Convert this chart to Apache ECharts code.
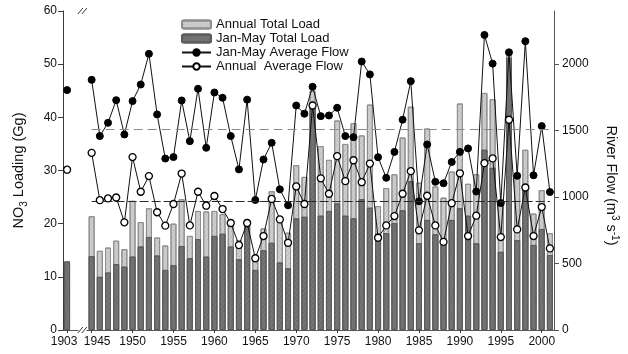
<!DOCTYPE html>
<html>
<head>
<meta charset="utf-8">
<script src="https://cdn.jsdelivr.net/npm/echarts@6/dist/echarts.min.js"></script>
<style>
  html, body { margin: 0; padding: 0; background: #fff; }
  #chart { width: 628px; height: 354px; }
</style>
</head>
<body>
<div id="chart"></div>
<script>
// Categories: 1903, two empty slots for the axis break, then 1945-2001
const categories = ['1903', ' ', '  ',
  '1945','1946','1947','1948','1949','1950','1951','1952','1953','1954',
  '1955','1956','1957','1958','1959','1960','1961','1962','1963','1964',
  '1965','1966','1967','1968','1969','1970','1971','1972','1973','1974',
  '1975','1976','1977','1978','1979','1980','1981','1982','1983','1984',
  '1985','1986','1987','1988','1989','1990','1991','1992','1993','1994',
  '1995','1996','1997','1998','1999','2000','2001'];

// NO3 load, Gg
const annualLoad = [null, null, null,
  21.4, 14.9, 15.5, 16.8, 15.2, 24.3, 20.3, 22.9, 17.4, 15.9,
  20.0, 24.6, 17.7, 22.4, 22.3, 22.4, 21.8, 20.4, 16.9, 20.8,
  14.0, 19.1, 26.1, 20.5, 18.3, 31.0, 28.8, 45.0, 34.6, 32.0,
  39.4, 35.0, 38.9, 36.6, 42.4, 23.3, 26.7, 29.3, 36.2, 42.0,
  27.7, 37.9, 27.0, 24.9, 29.8, 42.6, 27.5, 29.3, 44.6, 43.4,
  24.5, 52.0, 28.7, 33.9, 21.9, 26.3, 18.2];

const janMayLoad = [12.9, null, null,
  13.9, 10.0, 10.8, 12.4, 11.9, 13.8, 15.7, 17.5, 14.0, 11.3,
  12.2, 15.8, 13.5, 17.1, 13.8, 17.7, 18.1, 15.7, 13.3, 19.6,
  11.3, 15.0, 16.4, 12.7, 11.6, 21.0, 21.3, 42.5, 21.5, 22.4,
  23.8, 21.5, 21.0, 24.6, 23.0, 18.1, 18.2, 20.1, 22.5, 28.0,
  16.3, 20.7, 18.0, 16.6, 20.7, 22.9, 21.5, 16.3, 33.9, 30.5,
  14.7, 51.2, 16.9, 27.0, 16.0, 19.0, 14.1];

// River flow, m3/s
const janMayFlow = [1805, null, null,
  1882, 1459, 1559, 1729, 1471, 1722, 1847, 2078, 1622, 1290,
  1301, 1727, 1421, 1815, 1371, 1787, 1747, 1459, 1208, 1733,
  978, 1283, 1408, 1058, 938, 1689, 1627, 1830, 1609, 1614,
  1672, 1459, 1451, 2020, 1923, 1300, 1145, 1340, 1582, 1872,
  968, 1396, 1115, 1104, 1264, 1340, 1366, 1042, 2220, 2004,
  955, 2089, 1160, 2173, 1164, 1534, 1038];

const annualFlow = [1206, null, null,
  1333, 977, 990, 997, 810, 1301, 1040, 1158, 886, 785,
  948, 1177, 787, 1040, 935, 1008, 910, 805, 639, 805,
  540, 707, 986, 832, 656, 1080, 948, 1689, 1141, 1025,
  1308, 1120, 1277, 1112, 1252, 694, 787, 857, 1025, 1195,
  750, 1010, 787, 663, 954, 1179, 707, 860, 1255, 1291,
  699, 1582, 757, 1072, 707, 925, 614];

// Long-term mean flows shown as dashed reference lines
const meanJanMayFlow = 1510;
const meanAnnualFlow = 967;

const loadTicks = [0, 10, 20, 30, 40, 50, 60];
const flowTicks = [0, 500, 1000, 1500, 2000];

const FONT = 'Liberation Sans, Arial, Helvetica, sans-serif';
const AXIS_COLOR = '#3a3a3a';

const labeledYear = (idx) => {
  const v = String(categories[idx]).trim();
  if (v === '') return false;
  return v === '1903' || Number(v) % 5 === 0;
};

// Year labels: only 1903 and every fifth year; the two labels at the break
// are nudged apart so they sit side by side
const yearLabel = (val, idx) => {
  if (!labeledYear(idx)) return '';
  if (val === '1903') return '{left|1903}';
  if (val === '1945') return '{right|1945}';
  return val;
};

// Fine speckle texture for the stippled bar fills
const speckle = (color) => ({
  symbol: 'rect',
  symbolSize: 1,
  color: color,
  dashArrayX: [1, 2],
  dashArrayY: [1, 1],
  rotation: 0.6
});

const chart = echarts.init(document.getElementById('chart'), null, { renderer: 'canvas' });

chart.setOption({
  animation: false,
  backgroundColor: '#fff',
  textStyle: { fontFamily: FONT, color: '#111' },
  grid: { left: 63, right: 72, top: 11, bottom: 24, containLabel: false },
  legend: {
    orient: 'vertical',
    left: 181,
    top: 18,
    padding: 0,
    itemWidth: 29,
    itemHeight: 8,
    itemGap: 1,
    textStyle: { fontFamily: FONT, fontSize: 13, color: '#111' },
    data: ['Annual Total Load', 'Jan-May Total Load', 'Jan-May Average Flow', 'Annual  Average Flow']
  },
  xAxis: [{
    type: 'category',
    data: categories,
    boundaryGap: true,
    axisLine: { lineStyle: { color: AXIS_COLOR, width: 1 } },
    axisTick: { show: true, interval: labeledYear, alignWithLabel: true, length: 3, lineStyle: { color: AXIS_COLOR } },
    axisLabel: {
      interval: 0,
      formatter: yearLabel,
      fontSize: 12, margin: 6, color: '#111', fontFamily: FONT,
      rich: {
        left: { fontSize: 12, fontFamily: FONT, color: '#111', padding: [0, 6, 0, 0] },
        right: { fontSize: 12, fontFamily: FONT, color: '#111', padding: [0, 0, 0, 11] }
      }
    },
    splitLine: { show: false }
  }, {
    type: 'category',
    data: categories,
    position: 'top',
    axisLine: { lineStyle: { color: '#555', width: 1 } },
    axisTick: { show: false },
    axisLabel: { show: false },
    splitLine: { show: false }
  }],
  yAxis: [{
    type: 'value',
    min: 0, max: 60, interval: 10,
    position: 'left',
    axisLine: { show: true, lineStyle: { color: AXIS_COLOR } },
    axisTick: { show: true, length: 5, lineStyle: { color: AXIS_COLOR } },
    axisLabel: { fontSize: 12, margin: 6, color: '#111', fontFamily: FONT, customValues: loadTicks, formatter: v => String(v) },
    splitLine: { show: false },
    name: '{a|NO}{sub|3}{a| Loading (Gg)}',
    nameLocation: 'middle',
    nameRotate: 90,
    nameGap: 37,
    nameTextStyle: {
      fontFamily: FONT,
      rich: {
        a: { fontSize: 14.5, fontFamily: FONT, color: '#111', lineHeight: 17, verticalAlign: 'bottom' },
        sub: { fontSize: 10, fontFamily: FONT, color: '#111', lineHeight: 10, verticalAlign: 'bottom', padding: [0, 0, -3, 0] }
      }
    }
  }, {
    type: 'value',
    min: 0, max: 2400,
    position: 'right',
    axisLine: { show: true, lineStyle: { color: '#555' } },
    axisTick: { show: true, length: 5, lineStyle: { color: '#555' }, customValues: flowTicks },
    axisLabel: { fontSize: 12, margin: 8, color: '#111', fontFamily: FONT, customValues: flowTicks, formatter: v => String(v) },
    splitLine: { show: false },
    name: '{a|River Flow (m}{sup|3}{a| s}{sup|-1}{a|)}',
    nameLocation: 'middle',
    nameRotate: -90,
    nameGap: 49,
    nameTextStyle: {
      fontFamily: FONT,
      padding: [0, 0, 0, 30],
      rich: {
        a: { fontSize: 14.5, fontFamily: FONT, color: '#111', lineHeight: 17, verticalAlign: 'bottom' },
        sup: { fontSize: 10, fontFamily: FONT, color: '#111', lineHeight: 17, verticalAlign: 'top' }
      }
    }
  }],
  series: [{
    name: 'Annual Total Load',
    type: 'bar',
    xAxisIndex: 0, yAxisIndex: 0,
    data: annualLoad,
    barWidth: 6,
    barGap: '-100%',
    itemStyle: { color: '#cfcfcf', borderColor: '#8e8e8e', borderWidth: 1, decal: speckle('rgba(120,120,120,0.35)') },
    z: 1
  }, {
    name: 'Jan-May Total Load',
    type: 'bar',
    xAxisIndex: 0, yAxisIndex: 0,
    data: janMayLoad,
    barWidth: 6,
    barGap: '-100%',
    itemStyle: { color: '#767676', borderColor: '#5c5c5c', borderWidth: 1, decal: speckle('rgba(40,40,40,0.35)') },
    z: 2
  }, {
    name: 'Jan-May Average Flow',
    type: 'line',
    xAxisIndex: 0, yAxisIndex: 1,
    data: janMayFlow,
    connectNulls: false,
    showSymbol: true,
    showAllSymbol: true,
    symbol: 'circle',
    symbolSize: 7,
    itemStyle: { color: '#000', borderColor: '#000', borderWidth: 1 },
    lineStyle: { color: '#111', width: 1 },
    z: 4,
    markLine: {
      silent: true,
      symbol: 'none',
      label: { show: false },
      lineStyle: { color: '#8a8a8a', width: 1.2, type: [9, 5] },
      data: [[{ coord: ['1945', meanJanMayFlow] }, { coord: ['2001', meanJanMayFlow] }]]
    }
  }, {
    name: 'Annual  Average Flow',
    type: 'line',
    xAxisIndex: 0, yAxisIndex: 1,
    data: annualFlow,
    connectNulls: false,
    showSymbol: true,
    showAllSymbol: true,
    symbol: 'circle',
    symbolSize: 7,
    itemStyle: { color: '#fff', borderColor: '#000', borderWidth: 1.3 },
    lineStyle: { color: '#111', width: 1 },
    z: 5,
    markLine: {
      silent: true,
      symbol: 'none',
      label: { show: false },
      lineStyle: { color: '#2a2a2a', width: 1.2, type: [9, 3] },
      data: [[{ coord: ['1945', meanAnnualFlow] }, { coord: ['2001', meanAnnualFlow] }]]
    }
  }]
});

// Axis break marks ("//") between 1903 and 1945 on the bottom and top edges
(function drawBreaks() {
  const px = c => chart.convertToPixel({ xAxisIndex: 0 }, c);
  const bx = (px(categories[1]) + px(categories[2])) / 2 + 3;
  const yTop = chart.convertToPixel({ yAxisIndex: 0 }, 60);
  const yBot = chart.convertToPixel({ yAxisIndex: 0 }, 0);
  const els = [];
  [yTop, yBot].forEach(y => {
    els.push({ type: 'rect', shape: { x: bx - 4, y: y - 2, width: 8, height: 4 }, style: { fill: '#fff' }, z: 100 });
    [-2, 2].forEach(dx => {
      els.push({
        type: 'line',
        shape: { x1: bx + dx - 2.5, y1: y + 3, x2: bx + dx + 2.5, y2: y - 3 },
        style: { stroke: '#333', lineWidth: 1 },
        z: 101
      });
    });
  });
  chart.setOption({ graphic: els });
})();
</script>
</body>
</html>
